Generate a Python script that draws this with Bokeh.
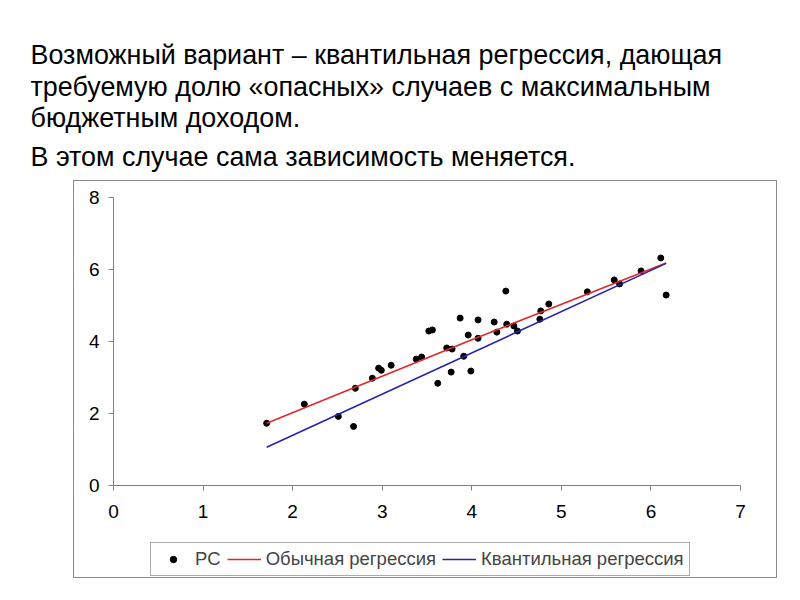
from bokeh.plotting import figure
from bokeh.models import Label, Legend, LegendItem, Range1d, FixedTicker, Spacer
from bokeh.layouts import column, row
from bokeh.embed import file_html
from bokeh.resources import INLINE

# ---- data ----
title_lines = [
    "Возможный вариант – квантильная регрессия, дающая",
    "требуемую долю «опасных» случаев с максимальным",
    "бюджетным доходом.",
    "В этом случае сама зависимость меняется.",
]
pc_x = [1.71, 2.13, 2.51, 2.68, 2.70, 2.89, 2.96, 2.99, 3.10, 3.38, 3.44, 3.52, 3.56,
        3.62, 3.72, 3.77, 3.78, 3.87, 3.91, 3.96, 3.99, 4.07, 4.07, 4.25, 4.28, 4.38,
        4.39, 4.47, 4.51, 4.76, 4.77, 4.86, 5.29, 5.59, 5.65, 5.89, 6.11, 6.17]
pc_y = [1.73, 2.26, 1.92, 1.64, 2.70, 2.98, 3.26, 3.20, 3.34, 3.51, 3.57, 4.29, 4.32,
        2.84, 3.82, 3.15, 3.79, 4.65, 3.59, 4.18, 3.18, 4.60, 4.09, 4.54, 4.26, 5.40,
        4.48, 4.43, 4.29, 4.62, 4.85, 5.04, 5.38, 5.71, 5.60, 5.96, 6.32, 5.29]
ols_x = [1.71, 4.00, 6.17]
ols_y = [1.73, 4.05, 6.18]
qr_x = [1.71, 6.17]
qr_y = [1.06, 6.17]
x_ticks = [0, 1, 2, 3, 4, 5, 6, 7]
y_ticks = [0, 2, 4, 6, 8]
legend_labels = ["PC", "Обычная регрессия", "Квантильная регрессия"]

FONT = "Liberation Sans"
RED = "#e02828"
BLUE = "#2323b0"

# ---- title block ----
t = figure(width=784, height=180, output_backend="svg", toolbar_location=None,
           x_range=Range1d(0, 784), y_range=Range1d(180, 0),
           x_axis_type=None, y_axis_type=None, min_border=0)
t.outline_line_color = None
t.grid.visible = False
baselines = [54, 86, 117, 156]
for txt, yb in zip(title_lines, baselines):
    t.add_layout(Label(x=30, y=yb, text=txt, text_font=FONT,
                       text_font_size="26.9px", text_color="black",
                       text_baseline="alphabetic"))

# ---- chart ----
p = figure(width=702, height=346, output_backend="svg", toolbar_location=None,
           x_range=Range1d(0, 7), y_range=Range1d(0, 8),
           min_border_left=39, min_border_right=36,
           min_border_top=16, min_border_bottom=42)
p.outline_line_color = None
p.grid.visible = False

for ax in (p.xaxis, p.yaxis):
    ax.axis_line_color = "#808080"
    ax.major_tick_line_color = "#808080"
    ax.major_tick_out = 5
    ax.major_tick_in = 0
    ax.minor_tick_line_color = None
    ax.major_label_text_font = FONT
    ax.major_label_text_font_size = "19px"
    ax.major_label_text_color = "black"
p.xaxis.ticker = FixedTicker(ticks=x_ticks)
p.yaxis.ticker = FixedTicker(ticks=y_ticks)
p.xaxis.major_label_standoff = 14
p.yaxis.major_label_standoff = 9

p.scatter(pc_x, pc_y, size=6, color="black")
p.line(ols_x, ols_y, line_color=RED, line_width=1.6)
p.line(qr_x, qr_y, line_color=BLUE, line_width=1.6)

# ---- legend strip (same series, drawn outside its visible range) ----
lf = figure(width=702, height=50, output_backend="svg", toolbar_location=None,
            x_range=Range1d(100, 101), y_range=Range1d(100, 101),
            x_axis_type=None, y_axis_type=None, min_border=0)
lf.outline_line_color = None
lf.grid.visible = False
g_pc = lf.scatter(pc_x, pc_y, size=6, color="black")
g_ols = lf.line(ols_x, ols_y, line_color=RED, line_width=1.6)
g_qr = lf.line(qr_x, qr_y, line_color=BLUE, line_width=1.6)
legend = Legend(items=[LegendItem(label=legend_labels[0], renderers=[g_pc]),
                       LegendItem(label=legend_labels[1], renderers=[g_ols]),
                       LegendItem(label=legend_labels[2], renderers=[g_qr])],
                orientation="horizontal", location=(37, 1),
                label_text_font=FONT, label_text_font_size="18.5px",
                glyph_width=34, glyph_height=16, spacing=6, label_standoff=5,
                padding=5, margin=0, border_line_color="#555555",
                border_line_width=1, background_fill_alpha=1)
lf.add_layout(legend, "center")

chart_box = column(p, lf, styles={"border": "1px solid #8a8a8a"})
layout = column(t, row(Spacer(width=73, height=398), chart_box))
open("out.html", "w").write(file_html(layout, INLINE))
